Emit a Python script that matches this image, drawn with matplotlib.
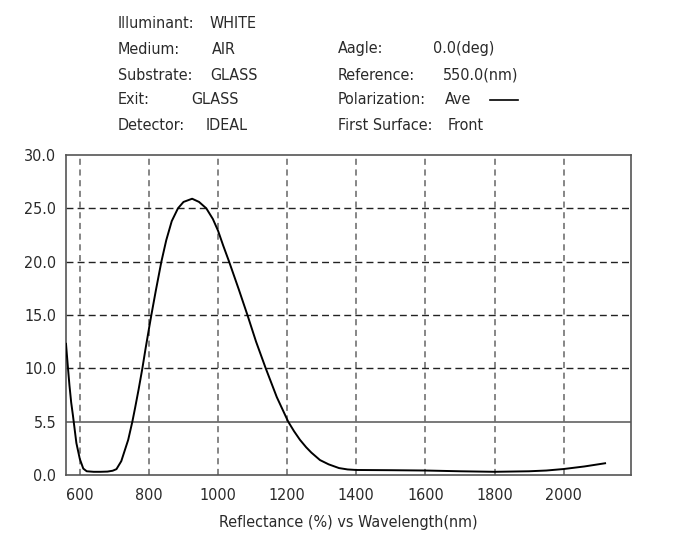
import matplotlib.pyplot as plt

plt.rcParams['font.family'] = ['DejaVu Sans']
plt.rcParams['font.stretch'] = 'condensed'

# reflectance curve
wavelength = [560, 565, 570, 575, 580, 590, 600, 610, 620, 640, 660, 680, 695,
              706, 720, 740, 752, 760, 770, 781, 790, 800, 807, 820, 836,
              850, 866, 884, 900, 925, 945, 966, 985, 1000, 1015, 1032, 1060,
              1085, 1110, 1138, 1170, 1203, 1220, 1237, 1255, 1270, 1295,
              1320, 1350, 1375, 1400, 1500, 1600, 1700, 1800, 1900, 1950,
              2000, 2060, 2120]
reflectance = [12.3, 10.3, 8.4, 6.8, 5.6, 3.0, 1.5, 0.6, 0.35, 0.3, 0.3, 0.32,
               0.4, 0.55, 1.3, 3.3, 5.0, 6.3, 8.0, 10.0, 11.8, 13.7, 15.0,
               17.3, 20.0, 22.0, 23.8, 25.0, 25.6, 25.9, 25.6, 25.0, 24.0,
               22.9, 21.5, 20.0, 17.4, 15.0, 12.5, 10.0, 7.3, 5.0, 4.1, 3.3,
               2.6, 2.1, 1.4, 1.0, 0.65, 0.52, 0.47, 0.45, 0.42, 0.35, 0.3,
               0.35, 0.42, 0.56, 0.8, 1.1]

x_ticks = [600, 800, 1000, 1200, 1400, 1600, 1800, 2000]
y_ticks = [0, 5, 10, 15, 20, 25, 30]
y_tick_labels = ["0.0", "5.5", "10.0", "15.0", "20.0", "25.0", "30.0"]

left_info = [("Illuminant:", "WHITE", 210), ("Medium:", "AIR", 212),
             ("Substrate:", "GLASS", 210), ("Exit:", "GLASS", 191),
             ("Detector:", "IDEAL", 206)]
right_info = [("Aagle:", "0.0(deg)", 433), ("Reference:", "550.0(nm)", 443),
              ("Polarization:", "Ave", 445), ("First Surface:", "Front", 448)]

W, H = 674, 534
fig = plt.figure(figsize=(W / 100, H / 100), dpi=100)
ax = fig.add_axes([66 / W, (H - 475) / H, (631 - 66) / W, (475 - 155) / H])

text_color = "#2a2a2a"

ax.plot(wavelength, reflectance, color="black", lw=1.4, zorder=3)

ax.set_xlim(560, 2195)
ax.set_ylim(0, 30)
ax.set_xticks(x_ticks)
ax.set_yticks(y_ticks)
ax.set_yticklabels(y_tick_labels)
ax.tick_params(length=0, labelsize=11.5, colors=text_color)
ax.tick_params(axis="x", pad=9)
ax.tick_params(axis="y", pad=7)

for xt in x_ticks:
    ax.axvline(xt, color="#666666", lw=1.1, ls=(0, (4, 3)), zorder=1)
for yt in y_ticks[2:-1]:
    ax.axhline(yt, color="#222222", lw=1.0, ls=(0, (5, 3)), zorder=1)
ax.axhline(5, color="#555555", lw=1.1, zorder=1)

for s in ax.spines.values():
    s.set_color("#555555")
    s.set_linewidth(1.2)

ax.set_xlabel("Reflectance (%) vs Wavelength(nm)", fontsize=11.5,
              color=text_color, labelpad=9)

# header block
row_y = [24, 49, 75, 100, 126]
for (k, v, vx), y in zip(left_info, row_y):
    fig.text(118 / W, 1 - y / H, k, fontsize=11.5, color=text_color, va="center")
    fig.text(vx / W, 1 - y / H, v, fontsize=11.5, color=text_color, va="center")
for (k, v, vx), y in zip(right_info, row_y[1:]):
    fig.text(338 / W, 1 - y / H, k, fontsize=11.5, color=text_color, va="center")
    fig.text(vx / W, 1 - y / H, v, fontsize=11.5, color=text_color, va="center")
fig.add_artist(plt.Line2D([490 / W, 518 / W], [1 - 100 / H, 1 - 100 / H],
                          color="black", lw=1.2))

fig.savefig("out.png", dpi=100)
